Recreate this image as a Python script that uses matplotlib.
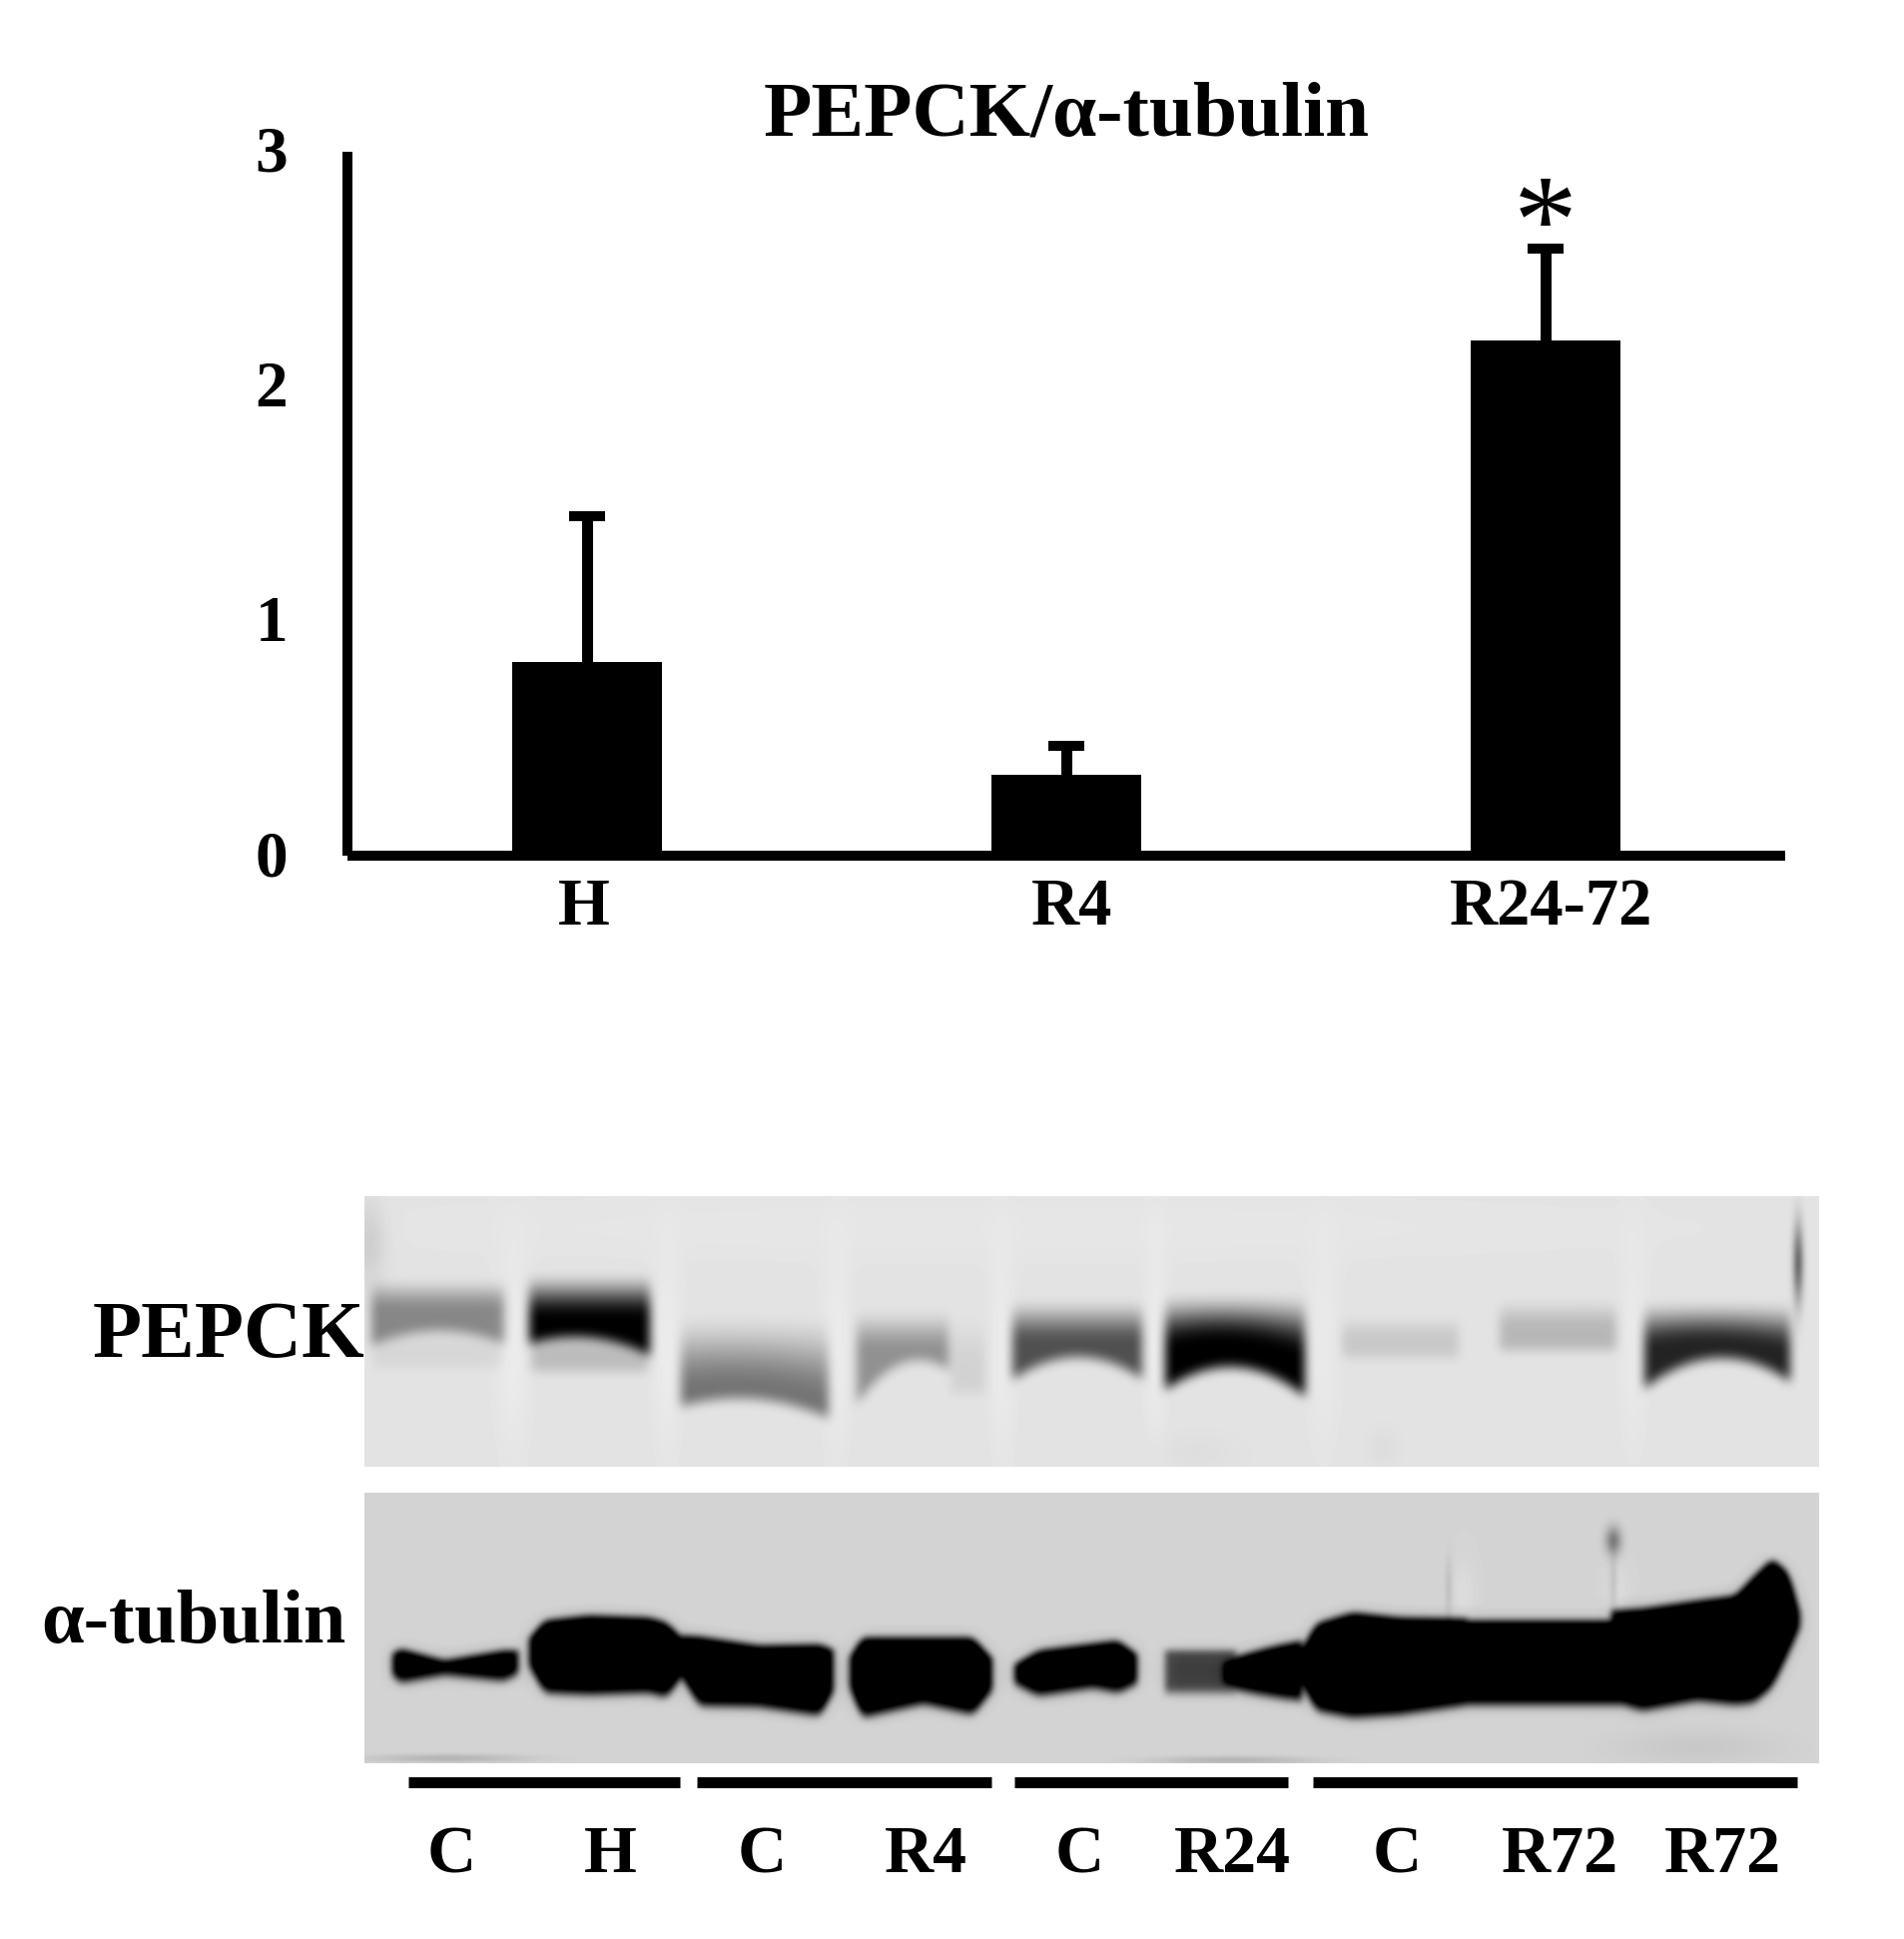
import matplotlib
matplotlib.use('Agg')
import matplotlib.pyplot as plt
from matplotlib.transforms import ScaledTranslation
import numpy as np

W, H = 1907, 1942
serif = ['Liberation Serif', 'DejaVu Serif']

# bar chart values
groups = ['H', 'R4', 'R24-72']
means = [0.826, 0.345, 2.195]
errs = [0.62, 0.125, 0.392]
group_pos = [0, 1, 2]
label_pos = [-0.006, 1.012, 2.012]
y_ticks = [0, 1, 2, 3]

# blot labels
lane_names = ['C', 'H', 'C', 'R4', 'C', 'R24', 'C', 'R72', 'R72']
lane_label_x = [452, 611, 763, 927, 1081, 1234, 1399, 1562, 1725]
sep_left = [409, 698, 1016, 1315]
sep_right = [681, 993, 1290, 1800]

pepck_x = [[370, 438, 507], [528, 590, 653], [680, 756, 832], [856, 905, 952], [1012, 1078, 1146],
           [1165, 1237, 1309], [1342, 1402, 1463], [1500, 1560, 1621], [1645, 1720, 1795],
           [372, 438, 505], [530, 590, 651], [950, 970, 989]]
pepck_top = [[1278], [1272], [1312], [1308], [1298], [1292], [1315], [1298], [1300],
             [1325], [1325], [1310]]
pepck_peak = [[1312], [1320], [1395, 1392, 1408], [1353], [1345], [1352, 1344, 1362], [1340], [1330], [1352, 1345, 1356],
              [1350], [1352], [1365]]
pepck_bottom = [[1354, 1338, 1352], [1352, 1345, 1364], [1414, 1406, 1426], [1414, 1370, 1378], [1388, 1364, 1387],
                [1398, 1374, 1405], [1364], [1357], [1397, 1365, 1390],
                [1374], [1378], [1400]]
pepck_core = [135, 0, 115, 145, 80, 0, 200, 183, 35, 214, 188, 210]

# tubulin bands, outline of each band in picture pixels
tub_x = [[391, 400, 445, 505, 521],
         [528, 545, 590, 650, 668, 686],
         [680, 700, 760, 822, 837],
         [849, 863, 925, 975, 996],
         [1014, 1040, 1095, 1120, 1141],
         [1165, 1195, 1240],
         [1222, 1253, 1306],
         [1298, 1318, 1355, 1402, 1472],
         [1455, 1540, 1630],
         [1612, 1645, 1700, 1738, 1757, 1775, 1792, 1805]]
tub_top = [[1655, 1648, 1660, 1650, 1650],
           [1640, 1620, 1615, 1617, 1622, 1640],
           [1635, 1636, 1645, 1644, 1650],
           [1660, 1637, 1637, 1637, 1660],
           [1665, 1650, 1643, 1640, 1655],
           [1650],
           [1662, 1652, 1640],
           [1660, 1623, 1612, 1617, 1618],
           [1620],
           [1610, 1608, 1600, 1595, 1575, 1558, 1572, 1620]]
tub_bottom = [[1680, 1690, 1682, 1688, 1680],
              [1670, 1700, 1702, 1700, 1705, 1680],
              [1680, 1713, 1714, 1723, 1695],
              [1690, 1725, 1711, 1722, 1695],
              [1690, 1703, 1695, 1700, 1690],
              [1700],
              [1693, 1700, 1708],
              [1680, 1718, 1725, 1722, 1712],
              [1712],
              [1708, 1718, 1708, 1712, 1710, 1695, 1660, 1630]]
tub_core = [0, 0, 0, 0, 0, 85, 0, 0, 0, 0]

# smudges in picture pixels: x, y, x spread, y spread, darkening
pepck_spots = [(370, 1245, 12, 30, 22), (1801, 1265, 4, 28, 115), (514, 1350, 12, 70, -8),
               (668, 1350, 10, 70, -8), (838, 1350, 10, 70, -8), (1004, 1350, 9, 70, -8),
               (1158, 1340, 8, 70, -8), (1325, 1340, 12, 70, -6), (1636, 1340, 10, 70, -6),
               (1200, 1455, 30, 14, 5), (1385, 1450, 12, 14, 6), (1000, 1230, 500, 25, -3)]
tub_spots = [(1616, 1543, 6, 10, 85), (1616, 1585, 3, 22, 22), (1451, 1590, 3, 22, 20),
             (1465, 1595, 8, 22, -8), (1620, 1595, 8, 22, -8),
             (450, 1761, 55, 3, 32), (1235, 1763, 55, 3, 32), (1700, 1750, 60, 14, 12)]


def blur(img, size):
    k = np.ones(size) / size
    pad = size
    out = np.pad(img, pad, mode='edge')
    out = np.apply_along_axis(lambda m: np.convolve(m, k, mode='same'), 0, out)
    out = np.apply_along_axis(lambda m: np.convolve(m, k, mode='same'), 1, out)
    return out[pad:-pad, pad:-pad]


def edge(xs, at, vals):
    if len(vals) == 1:
        return np.full(len(xs), float(vals[0]))
    if len(vals) == 3:
        # smile of the band
        return np.polyval(np.polyfit(at, vals, 2), np.clip(xs, at[0], at[-1]))
    line = np.interp(xs, at, vals)
    return np.convolve(np.pad(line, 10, mode='edge'), np.ones(11) / 11, mode='same')[10:-10]


def blot(x0, x1, y0, y1, bg, lane_x, top, peak, bottom, core, spots, halo, soft):
    xs = np.arange(x0, x1) + 0.5
    ys = np.arange(y0, y1) + 0.5
    dark = np.zeros((len(ys), len(xs)))
    for i in range(len(lane_x)):
        t = edge(xs, lane_x[i], top[i])
        b = edge(xs, lane_x[i], bottom[i])
        p = t + 6 if peak is None else edge(xs, lane_x[i], peak[i])
        side = np.clip((xs - lane_x[i][0]) / 4, 0, 1) * np.clip((lane_x[i][-1] - xs) / 4, 0, 1)
        for j, y in enumerate(ys):
            rise = np.clip((y - t) / np.maximum(p - t, 1), 0, 1)
            rise = rise * rise * (3 - 2 * rise)
            fall = np.clip((b - y) / np.maximum(np.minimum(b - p, 10), 1), 0, 1)
            dark[j] = np.maximum(dark[j], (bg - core[i]) * rise * fall * side)
    dark = blur(blur(dark, soft), soft) + halo * blur(dark, 31)
    img = bg - dark
    for sx, sy, wx, wy, amt in spots:
        gx = np.exp(-0.5 * ((xs - sx) / wx) ** 2)
        gy = np.exp(-0.5 * ((ys - sy) / wy) ** 2)
        img = img - amt * np.outer(gy, gx)
    return np.clip(img, 0, 255)


fig = plt.figure(figsize=(W / 100, H / 100), dpi=100, facecolor='white')

# bar chart
ax = fig.add_axes([348 / W, 1 - 857 / H, (1788 - 348) / W, (857 - 152) / H])
ax.bar(group_pos, means, width=0.3125, color='black')
eb = ax.errorbar(group_pos, means, yerr=[[0, 0, 0], errs], fmt='none', ecolor='black',
                 elinewidth=7.9, capsize=13, capthick=7.2)
eb[1][0].set_visible(False)
ax.set_xlim(-0.5, 2.5)
ax.set_ylim(0, 3)
ax.spines['top'].set_visible(False)
ax.spines['right'].set_visible(False)
for side in ['left', 'bottom']:
    ax.spines[side].set_linewidth(7.2)
    ax.spines[side].set_capstyle('butt')
ax.set_yticks(y_ticks)
ax.set_yticklabels([str(v) for v in y_ticks], family=serif, weight='bold', fontsize=47)
ax.set_xticks(label_pos)
ax.set_xticklabels(groups, family=serif, weight='bold', fontsize=48)
ax.tick_params(axis='y', length=0, pad=43)
ax.tick_params(axis='x', length=0, pad=16)
for lab in ax.get_yticklabels():
    lab.set_transform(lab.get_transform() + ScaledTranslation(0, 0.03, fig.dpi_scale_trans))
ax.set_title('PEPCK/\u03b1-tubulin', family=serif, weight='bold', fontsize=57, pad=9)
ax.text(2, 2.66, '*', family=serif, fontsize=92, ha='center', va='center', color='black')

# blot panels and labels, in picture pixels
bx = fig.add_axes([0, 0, 1, 1], facecolor='none')
top_img = blot(365, 1822, 1198, 1469, 227, pepck_x, pepck_top, pepck_peak,
               pepck_bottom, pepck_core, pepck_spots, 0.0, 11)
low_img = blot(365, 1822, 1495, 1766, 212, tub_x, tub_top, None,
               tub_bottom, tub_core, tub_spots, 0.18, 7)
bx.imshow(top_img, cmap='gray', vmin=0, vmax=255, extent=(365, 1822, 1469, 1198), aspect='auto')
bx.imshow(low_img, cmap='gray', vmin=0, vmax=255, extent=(365, 1822, 1766, 1495), aspect='auto')
bx.hlines([1785.5] * 4, sep_left, sep_right, color='black', linewidth=7.9)
for name, x in zip(lane_names, lane_label_x):
    bx.text(x, 1875, name, family=serif, weight='bold', fontsize=49, ha='center', va='baseline')
bx.text(365, 1359, 'PEPCK', family=serif, weight='bold', fontsize=58, ha='right', va='baseline')
bx.text(347, 1645, '\u03b1-tubulin', family=serif, weight='bold', fontsize=55, ha='right', va='baseline')
bx.set_xlim(0, W)
bx.set_ylim(H, 0)
bx.axis('off')

fig.savefig('out.png', dpi=100)
